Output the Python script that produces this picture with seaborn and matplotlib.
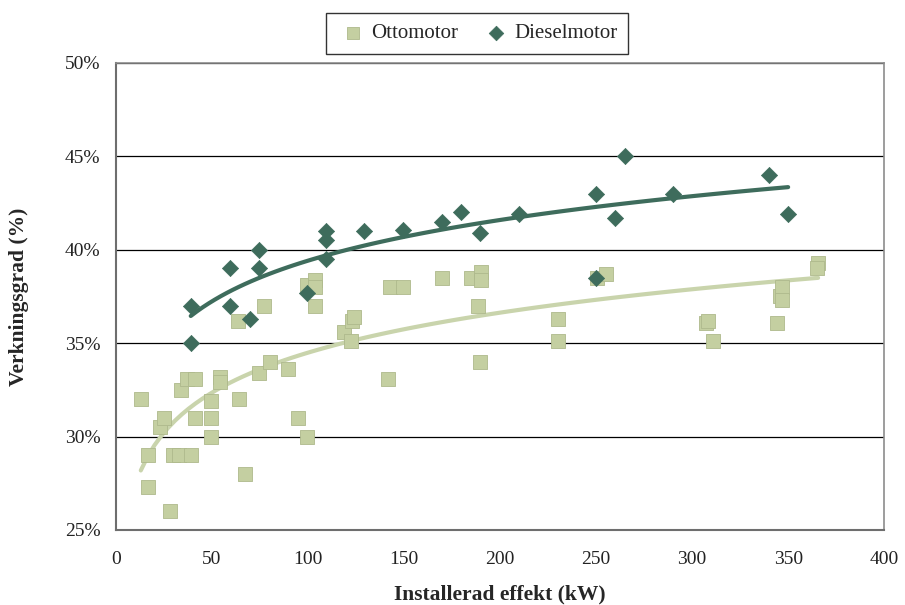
import numpy as np
import pandas as pd
import seaborn as sns
import matplotlib.pyplot as plt
from matplotlib.ticker import FuncFormatter, MultipleLocator

# Otto engines: installed power (kW) and efficiency (%)
otto_kw = [13, 17, 17, 23, 25, 28, 30, 33, 34, 37, 39, 41, 41, 49.5, 49.5, 49.5,
           54, 54, 63.5, 64, 67, 74.5, 77, 80, 89.5, 95, 99.5, 99.5, 103.6, 103.6,
           103.6, 118.7, 123, 124, 122.4, 141.7, 142.7, 149.5, 169.8, 185, 190, 190,
           188.5, 189.6, 230, 230, 250.5, 255, 307, 308.3, 311, 344, 346, 347, 347,
           365.6, 365]
otto_eff = [32.0, 27.3, 29.0, 30.5, 31.0, 26.0, 29.0, 29.0, 32.5, 33.1, 29.0, 33.1,
            31.0, 31.9, 31.0, 30.0, 33.2, 32.9, 36.2, 32.0, 28.0, 33.4, 37.0, 34.0,
            33.6, 31.0, 30.0, 38.1, 38.4, 38.0, 37.0, 35.6, 36.2, 36.4, 35.1, 33.1,
            38.0, 38.0, 38.5, 38.5, 38.8, 38.4, 37.0, 34.0, 36.3, 35.1, 38.5, 38.7,
            36.1, 36.2, 35.1, 36.1, 37.5, 38.0, 37.3, 39.3, 39.0]

# Diesel engines: installed power (kW) and efficiency (%)
diesel_kw = [39, 39, 59.4, 59.4, 69.8, 74.5, 74.5, 99.5, 109.4, 109.4, 109.4, 129,
             149.5, 169.8, 179.7, 189.6, 209.9, 250, 250, 260, 265, 290, 340, 350]
diesel_eff = [37.0, 35.0, 39.0, 37.0, 36.3, 40.0, 39.0, 37.7, 41.0, 40.5, 39.5, 41.0,
              41.06, 41.5, 42.0, 40.9, 41.9, 43.0, 38.5, 41.7, 45.0, 43.0, 44.0, 41.9]

otto = pd.DataFrame({"kw": otto_kw, "eff": otto_eff})
diesel = pd.DataFrame({"kw": diesel_kw, "eff": diesel_eff})

otto_col = "#C4CFA1"
otto_edge = "#AEB98C"
otto_line = "#C9D4AC"
diesel_col = "#3E6C5C"

sns.set_style("white")
plt.rcParams["font.family"] = ["Liberation Serif", "DejaVu Serif"]

fig = plt.figure(figsize=(9.05, 6.05), dpi=100)
ax = fig.add_axes([0.128, 0.124, 0.849, 0.772])

# logarithmic trend lines
sns.regplot(data=otto, x="kw", y="eff", logx=True, ci=None, scatter=False,
            line_kws=dict(color=otto_line, lw=3, zorder=3), ax=ax)
sns.regplot(data=diesel, x="kw", y="eff", logx=True, ci=None, scatter=False,
            line_kws=dict(color=diesel_col, lw=3, zorder=3), ax=ax)

sns.scatterplot(data=otto, x="kw", y="eff", marker="s", s=95, color=otto_col,
                edgecolor=otto_edge, linewidth=0.6, ax=ax, zorder=4,
                label="Ottomotor")
sns.scatterplot(data=diesel, x="kw", y="eff", marker="D", s=68, color=diesel_col,
                edgecolor=diesel_col, linewidth=0.5, ax=ax, zorder=5,
                label="Dieselmotor")

ax.set_xlim(0, 400)
ax.set_ylim(25, 50)
ax.xaxis.set_major_locator(MultipleLocator(50))
ax.yaxis.set_major_locator(MultipleLocator(5))
ax.yaxis.set_major_formatter(FuncFormatter(lambda v, p: f"{v:.0f}%"))
ax.grid(axis="y", color="black", lw=0.9)
ax.set_axisbelow(True)

for side in ["top", "right"]:
    ax.spines[side].set_color("#8C8C8C")
    ax.spines[side].set_linewidth(1.2)
for side in ["left", "bottom"]:
    ax.spines[side].set_color("#6E6E6E")
    ax.spines[side].set_linewidth(1.5)

ax.tick_params(axis="both", direction="out", length=5, width=1, color="#333333",
               labelsize=14, labelcolor="#222222", pad=6)
ax.tick_params(axis="x", pad=10)

ax.set_xlabel("Installerad effekt (kW)", fontsize=15.5, fontweight="bold", labelpad=12)
ax.set_ylabel("Verkningsgrad (%)", fontsize=15.5, fontweight="bold", labelpad=26)

leg = ax.legend(loc="center", bbox_to_anchor=(0.47, 1.063), ncol=2, frameon=True,
                fancybox=False, edgecolor="black", fontsize=15, handletextpad=0.1,
                columnspacing=1.0, borderpad=0.5, markerscale=0.9,
                handlelength=1.6)
leg.get_frame().set_linewidth(1.0)

fig.savefig("out.png", dpi=100)
